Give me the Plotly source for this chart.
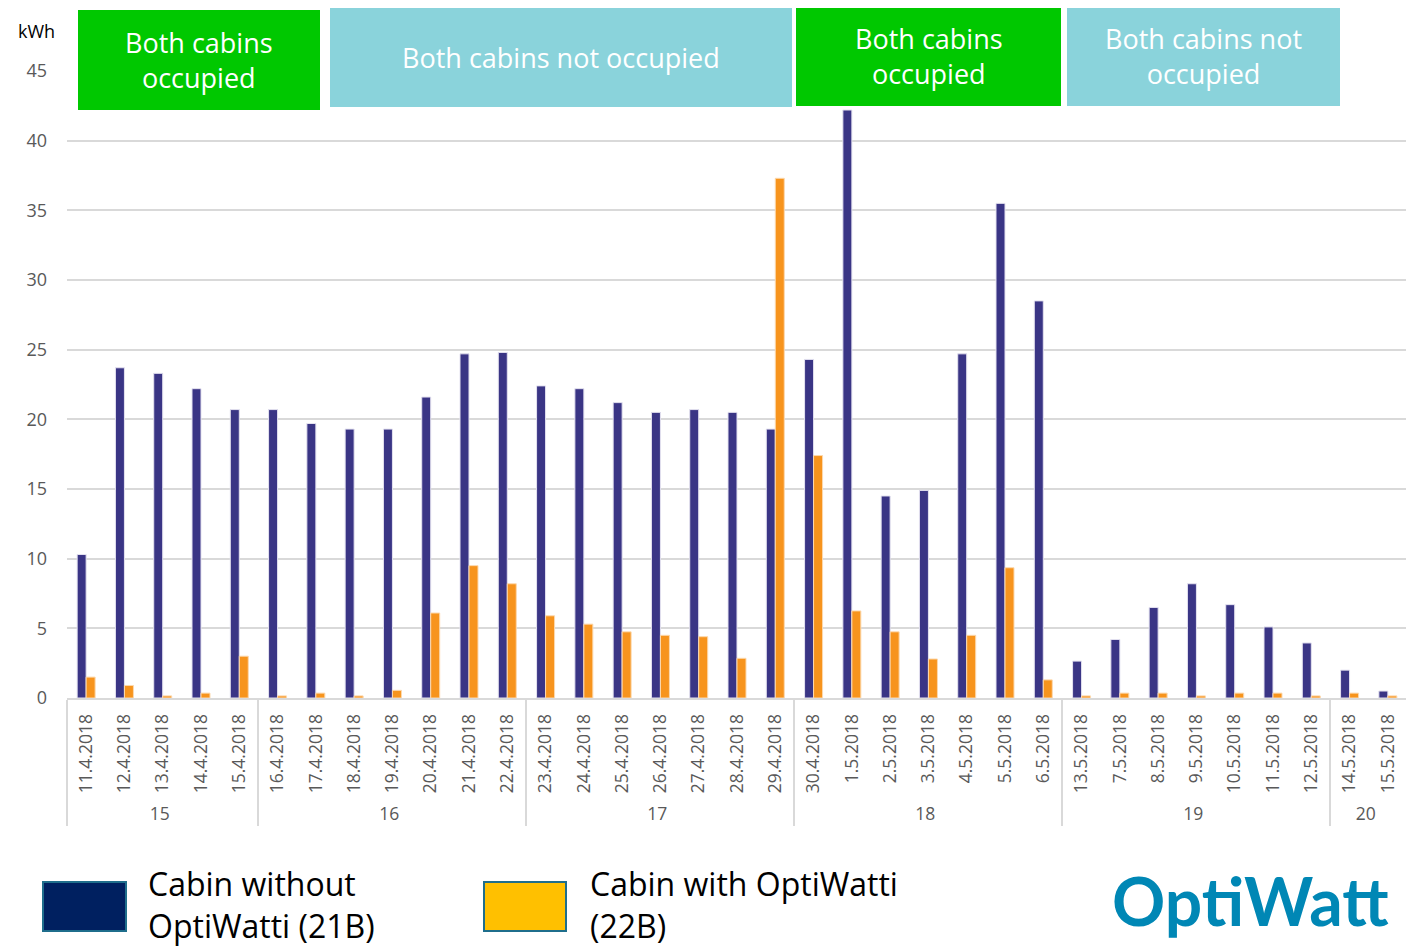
import plotly.graph_objects as go

weeks = ["15"]*5 + ["16"]*7 + ["17"]*7 + ["18"]*7 + ["19"]*7 + ["20"]*2
dates = ["11.4.2018", "12.4.2018", "13.4.2018", "14.4.2018", "15.4.2018",
         "16.4.2018", "17.4.2018", "18.4.2018", "19.4.2018", "20.4.2018", "21.4.2018", "22.4.2018",
         "23.4.2018", "24.4.2018", "25.4.2018", "26.4.2018", "27.4.2018", "28.4.2018", "29.4.2018",
         "30.4.2018", "1.5.2018", "2.5.2018", "3.5.2018", "4.5.2018", "5.5.2018", "6.5.2018",
         "13.5.2018", "7.5.2018", "8.5.2018", "9.5.2018", "10.5.2018", "11.5.2018", "12.5.2018",
         "14.5.2018", "15.5.2018"]
without_optiwatti = [10.3, 23.7, 23.3, 22.2, 20.7,
                     20.7, 19.7, 19.3, 19.3, 21.6, 24.7, 24.8,
                     22.4, 22.2, 21.2, 20.5, 20.7, 20.5, 19.3,
                     24.3, 42.2, 14.5, 14.9, 24.7, 35.5, 28.5,
                     2.65, 4.2, 6.5, 8.2, 6.7, 5.1, 3.95,
                     2.0, 0.5]
with_optiwatti = [1.5, 0.9, 0.15, 0.35, 3.0,
                  0.15, 0.35, 0.15, 0.55, 6.1, 9.5, 8.2,
                  5.9, 5.3, 4.75, 4.5, 4.4, 2.85, 37.3,
                  17.4, 6.25, 4.75, 2.8, 4.5, 9.35, 1.3,
                  0.15, 0.35, 0.35, 0.15, 0.35, 0.35, 0.15,
                  0.35, 0.15]
y_ticks = [0, 5, 10, 15, 20, 25, 30, 35, 40, 45]

# page body has an 8px default margin: size the figure so it fits the window
OFF = 8
W, H = 1414 - OFF, 947 - OFF
L, R, T, B = 67, 1407, 71, 698   # plot area in window pixels

def px(x):
    return (x - L) / (R - L)

def py(y):
    return (B - y) / (B - T)

fig = go.Figure()
fig.add_trace(go.Bar(x=[weeks, dates], y=without_optiwatti, name="Cabin without OptiWatti (21B)",
                     marker=dict(color="#3A3585", line=dict(color="#E4E2F0", width=1))))
fig.add_trace(go.Bar(x=[weeks, dates], y=with_optiwatti, name="Cabin with OptiWatti (22B)",
                     marker=dict(color="#F7941D", line=dict(color="#FCD9AE", width=1))))

font_main = "Open Sans, Noto Sans, sans-serif"

fig.update_layout(
    width=W, height=H,
    margin=dict(l=L - OFF, r=1414 - R, t=T - OFF, b=947 - B, autoexpand=False),
    paper_bgcolor="white", plot_bgcolor="white",
    barmode="group", bargap=0.53, bargroupgap=0,
    showlegend=False,
    font=dict(family=font_main, color="#595959"),
    xaxis=dict(type="multicategory", tickangle=-90, tickfont=dict(size=17.5, color="#595959"),
               showdividers=True, dividercolor="#D9D9D9", dividerwidth=2,
               showline=True, linecolor="#D9D9D9", linewidth=2, showgrid=False, ticks="",
               ticklabelstandoff=7, automargin=False),
    yaxis=dict(range=[0, 45], tickvals=y_ticks, tickfont=dict(size=18, color="#595959"),
               showgrid=True, gridcolor="#D9D9D9", gridwidth=1.5, zeroline=False,
               ticklabelstandoff=19, automargin=False),
)

# right-edge divider
fig.add_shape(type="line", xref="paper", yref="paper", x0=1, x1=1, y0=0, y1=py(835),
              line=dict(color="#D9D9D9", width=2))

# kWh label
fig.add_annotation(x=px(36), y=py(31), xref="paper", yref="paper", xanchor="center", yanchor="middle",
                   text="kWh", showarrow=False, font=dict(size=18, color="black", family=font_main))

# Banners
banners = [
    (78, 320, 10, 110, "#00C800", "Both cabins<br>occupied"),
    (330, 792, 7, 107, "#8AD3DB", "Both cabins not occupied"),
    (796, 1061, 6, 106, "#00C800", "Both cabins<br>occupied"),
    (1067, 1340, 6, 106, "#8AD3DB", "Both cabins not<br>occupied"),
]
for x0, x1, y0, y1, col, txt in banners:
    fig.add_shape(type="rect", xref="paper", yref="paper", x0=px(x0), x1=px(x1), y0=py(y1), y1=py(y0),
                  fillcolor=col, line=dict(width=0), layer="above")
    fig.add_annotation(x=px((x0 + x1) / 2), y=py((y0 + y1) / 2), xref="paper", yref="paper",
                       xanchor="center", yanchor="middle",
                       text=txt, showarrow=False, font=dict(size=27, color="white", family=font_main))

# Custom legend
legend_items = [
    (43, 126, "#002060", 146, "Cabin without<br>OptiWatti (21B)"),
    (484, 566, "#FFC000", 588, "Cabin with OptiWatti<br>(22B)"),
]
for x0, x1, col, tx, txt in legend_items:
    fig.add_shape(type="rect", xref="paper", yref="paper", x0=px(x0), x1=px(x1), y0=py(931), y1=py(882),
                  fillcolor=col, line=dict(color="#1F6E8C", width=2))
    fig.add_annotation(x=px(tx), y=py(904), xref="paper", yref="paper", xanchor="left", yanchor="middle",
                       text=txt, showarrow=False, align="left",
                       font=dict(size=32, color="black", family=font_main))

# Logo
fig.add_annotation(x=px(1110), y=py(901), xref="paper", yref="paper", xanchor="left", yanchor="middle",
                   text="<b>OptiWatt</b>", showarrow=False,
                   font=dict(size=66, color="#0087B5", family="Lato, Open Sans, sans-serif"))

fig.write_html("out.html")
